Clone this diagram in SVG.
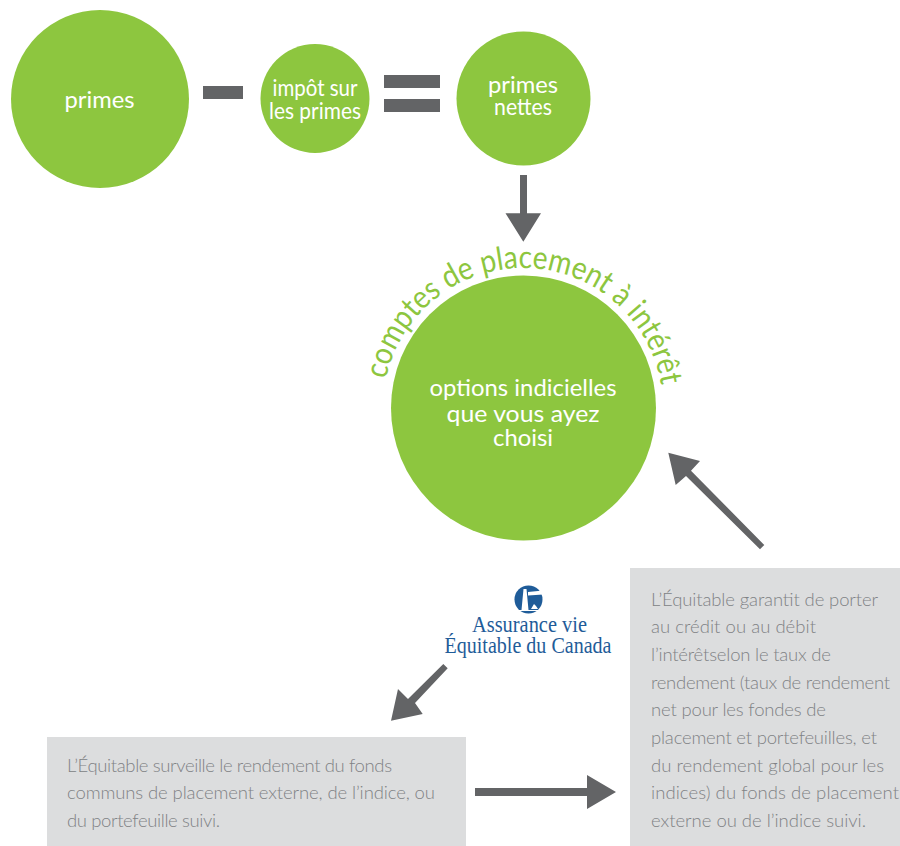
<svg xmlns="http://www.w3.org/2000/svg" width="900" height="846" viewBox="0 0 900 846">
<style>
.c{fill:#8dc63f}
.a{fill:#636466}
.b{fill:#dcddde}
text{font-family:"Lato","Open Sans","Liberation Sans",sans-serif;font-weight:300}
.w{fill:#fff;font-size:24px;font-weight:400;text-anchor:middle}
.g{fill:#808285;font-size:18.5px}
.l{font-family:"Liberation Serif",serif;font-weight:400;fill:#1f5c99;font-size:23px;text-anchor:middle}
.o{fill:#8dc63f;font-size:32px;font-weight:400}
</style>
<defs><path id="arc" d="M383 408A140 140 0 1 1 663 408"/></defs>
<rect width="900" height="846" fill="#fff"/>
<g id="primes"><circle class="c" cx="100" cy="99" r="89"/><text class="w" x="99.500" y="108" textLength="70" lengthAdjust="spacingAndGlyphs">primes</text></g>
<g id="impot"><circle class="c" cx="315" cy="98.500" r="54.500"/><text class="w" x="315" y="96" textLength="85" lengthAdjust="spacingAndGlyphs">impôt sur</text><text class="w" x="315" y="119" textLength="92" lengthAdjust="spacingAndGlyphs">les primes</text></g>
<g id="nettes"><circle class="c" cx="523.500" cy="98.500" r="67"/><text class="w" x="523" y="93" textLength="70" lengthAdjust="spacingAndGlyphs">primes</text><text class="w" x="523" y="115" textLength="58" lengthAdjust="spacingAndGlyphs">nettes</text></g>
<g id="options"><circle class="c" cx="523.500" cy="408" r="132.500"/>
<text class="w" x="523" y="396" textLength="187" lengthAdjust="spacingAndGlyphs">options indicielles</text><text class="w" x="523" y="422" textLength="153" lengthAdjust="spacingAndGlyphs">que vous ayez</text><text class="w" x="523" y="446" textLength="60" lengthAdjust="spacingAndGlyphs">choisi</text>
<text class="o"><textPath href="#arc" startOffset="29" textLength="388" lengthAdjust="spacingAndGlyphs">comptes de placement à intérêt</textPath></text></g>
<g id="logo"><circle cx="528.500" cy="599.500" r="14" fill="#1f5c99"/><path d="M528 592l15-1.500v4l-15 1zM523.500 589h3l2 21h-7zM516 610h22v1h-22zM531 609l3-5 2 2 2 3z" fill="#fff"/>
<text class="l" x="529.500" y="632" textLength="115" lengthAdjust="spacingAndGlyphs">Assurance vie</text><text class="l" x="528" y="652.500" textLength="167" lengthAdjust="spacingAndGlyphs">Équitable du Canada</text></g>
<g id="box-left"><rect class="b" x="47" y="737" width="419" height="109"/>
<text class="g" x="67" y="772" textLength="325">L’Équitable surveille le rendement du fonds</text>
<text class="g" x="67" y="799" textLength="368">communs de placement externe, de l’indice, ou</text>
<text class="g" x="67" y="827" textLength="153">du portefeuille suivi.</text></g>
<g id="box-right"><rect class="b" x="630" y="568" width="270" height="278"/>
<text class="g" x="651" y="606" textLength="227">L’Équitable garantit de porter</text>
<text class="g" x="651" y="633" textLength="165">au crédit ou au débit</text>
<text class="g" x="651" y="661" textLength="180">l’intérêtselon le taux de</text>
<text class="g" x="651" y="689" textLength="239">rendement (taux de rendement</text>
<text class="g" x="651" y="716" textLength="175">net pour les fondes de</text>
<text class="g" x="651" y="744" textLength="226">placement et portefeuilles, et</text>
<text class="g" x="651" y="772" textLength="233">du rendement global pour les</text>
<text class="g" x="651" y="799" textLength="248">indices) du fonds de placement</text>
<text class="g" x="651" y="827" textLength="215">externe ou de l’indice suivi.</text></g>
<g id="connectors">
<rect class="a" x="203" y="86" width="40" height="13"/>
<rect class="a" x="384" y="75" width="56" height="13"/>
<rect class="a" x="384" y="99" width="56" height="13"/>
<path class="a" d="M520 175h7v38.300h14l-17.700 28.400-17.800-28.400h14.500z"/>
<path class="a" d="M764.300 545l-4.300 4.300-74-73.300-10.300 9-7.400-32.300 31.700 8.300-9 9.700z"/>
<path class="a" d="M443.300 664l4.400 4.200-32.700 34.800 7.700 11-31.700 6.700 7-31.700 10 10z"/>
<path class="a" d="M475 788h112v-13l29 17-29 17v-13h-112z"/>
</g>
</svg>
